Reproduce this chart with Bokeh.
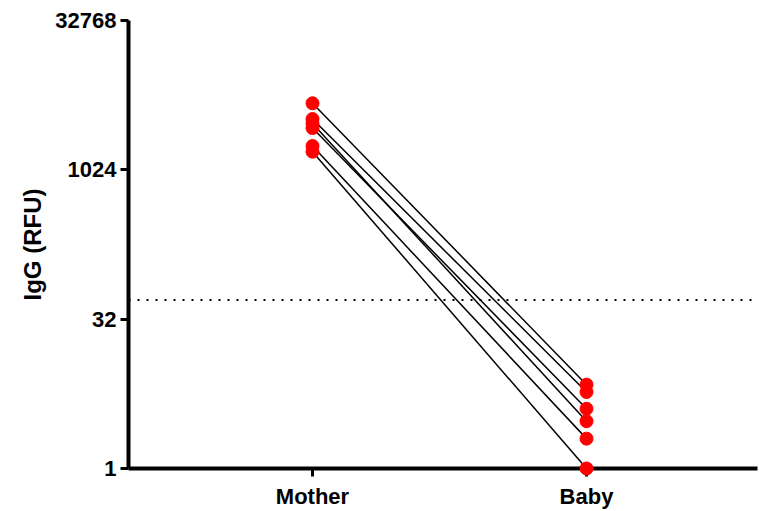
from bokeh.plotting import figure
from bokeh.models import FixedTicker, PrintfTickFormatter, Span, ColumnDataSource, Range1d
from bokeh.embed import file_html
from bokeh.resources import INLINE

groups = ["Mother", "Baby"]
group_x = [1, 2]
mother_vals = [4800, 3330, 3000, 2700, 1780, 1560]
baby_vals = [7.0, 5.9, 3.0, 4.0, 2.0, 1.0]
cutoff = 50
y_ticks = [1, 32, 1024, 32768]

p = figure(width=759, height=511, output_backend="svg", toolbar_location=None,
           y_axis_type="log", x_range=Range1d(0.3285, 2.624), y_range=Range1d(1, 32768),
           min_border_left=128, min_border_right=2, min_border_top=20, min_border_bottom=42)
p.outline_line_color = None
p.xgrid.visible = False
p.ygrid.visible = False
p.background_fill_color = "white"
p.border_fill_color = "white"

p.add_layout(Span(location=cutoff, dimension="width", line_color="black",
                  line_width=2, line_dash="2 7"))

for m, b in zip(mother_vals, baby_vals):
    p.line(x=group_x, y=[m, b], line_color="black", line_width=1.5)

src = ColumnDataSource(dict(x=[group_x[0]] * len(mother_vals) + [group_x[1]] * len(baby_vals),
                            y=mother_vals + baby_vals))
p.scatter("x", "y", source=src, size=13, fill_color="#ff0000", line_color="#ff0000",
          level="overlay")

for ax in (p.xaxis[0], p.yaxis[0]):
    ax.axis_line_width = 4
    ax.axis_line_color = "black"
    ax.major_tick_line_width = 3
    ax.major_tick_line_color = "black"
    ax.major_tick_out = 8
    ax.major_tick_in = 0
    ax.minor_tick_line_color = None
    ax.major_label_text_font = "Liberation Sans"
    ax.major_label_text_font_style = "bold"
    ax.major_label_text_font_size = "22px"
    ax.major_label_text_color = "black"

p.xaxis.ticker = FixedTicker(ticks=group_x)
p.xaxis.major_label_overrides = {1: groups[0], 2: groups[1]}
p.xaxis.major_label_standoff = 7

p.yaxis.ticker = FixedTicker(ticks=y_ticks)
p.yaxis.formatter = PrintfTickFormatter(format="%d")
p.yaxis.major_label_standoff = 4
p.yaxis.axis_label = "IgG (RFU)"
p.yaxis.axis_label_text_font = "Liberation Sans"
p.yaxis.axis_label_text_font_style = "bold"
p.yaxis.axis_label_text_font_size = "24px"
p.yaxis.axis_label_text_color = "black"
p.yaxis.axis_label_standoff = 6

open("out.html", "w").write(file_html(p, INLINE))
